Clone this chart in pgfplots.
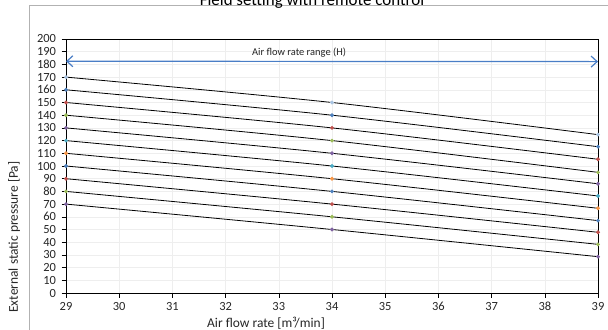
\documentclass[border=0pt]{standalone}
\usepackage{fontspec}
\setmainfont{Carlito}
\usepackage{pgfplots}
\pgfplotsset{compat=1.18}
\usetikzlibrary{arrows.meta}
\definecolor{sblue}{HTML}{4F81BD}
\definecolor{sred}{HTML}{C0504D}
\definecolor{sgreen}{HTML}{9BBB59}
\definecolor{spurple}{HTML}{8064A2}
\definecolor{scyan}{HTML}{4BACC6}
\definecolor{sorange}{HTML}{F79646}
\definecolor{slight}{HTML}{A9C4E2}
\definecolor{arrowblue}{HTML}{4A7EC6}
\begin{document}
\begin{tikzpicture}[x=1bp,y=1bp]
\useasboundingbox (0,0) rectangle (608,329);
\draw[gray!60, line width=0.8bp] (29,-2) -- (29,324) -- (612,324);
\node[anchor=base, font=\fontsize{17}{19}\selectfont] at (312,323.5) {Field setting with remote control};
\begin{axis}[
  scale only axis, width=532bp, height=254bp,
  at={(66bp,36bp)}, anchor=south west,
  xmin=29, xmax=39, ymin=0, ymax=200,
  xtick={29,30,...,39}, ytick={0,10,...,200},
  tick pos=left,
  grid=major, major grid style={color=gray!13, line width=0.5bp},
  axis line style={black, line width=0.8bp},
  tick style={black, line width=0.6bp},
  tick align=outside, major tick length=4.5bp,
  ticklabel style={font=\fontsize{12.5}{13}\selectfont, text=black!85},
  /pgf/number format/assume math mode=true,
  xticklabel style={yshift=-1bp},
  yticklabel style={xshift=-2bp},
  xlabel={Air flow rate [m³/min]},
  ylabel={External static pressure [Pa]},
  xlabel style={at={(axis description cs:0.376,-0.134)}, anchor=base, font=\fontsize{13.5}{14}\selectfont, text=black!85},
  ylabel style={at={(axis description cs:-0.0977,0.22)}, anchor=center, font=\fontsize{13.5}{14}\selectfont, text=black!85},
  every axis plot/.append style={black, line width=0.8bp, smooth, mark=*, mark size=1.5bp},
]
\addplot[mark options={draw=slight, fill=slight}] coordinates {(29,170) (34,150) (39,124.7)};
\addplot[mark options={draw=sblue, fill=sblue}] coordinates {(29,160) (34,140) (39,115.2)};
\addplot[mark options={draw=sred, fill=sred}] coordinates {(29,150) (34,130) (39,105.3)};
\addplot[mark options={draw=sgreen, fill=sgreen}] coordinates {(29,140) (34,120) (39,95)};
\addplot[mark options={draw=spurple, fill=spurple}] coordinates {(29,130) (34,110) (39,86)};
\addplot[mark options={draw=scyan, fill=scyan}] coordinates {(29,120) (34,100) (39,76.4)};
\addplot[mark options={draw=sorange, fill=sorange}] coordinates {(29,110) (34,90) (39,66.7)};
\addplot[mark options={draw=sblue, fill=sblue}] coordinates {(29,100) (34,80) (39,57)};
\addplot[mark options={draw=sred, fill=sred}] coordinates {(29,90) (34,70) (39,47.8)};
\addplot[mark options={draw=sgreen, fill=sgreen}] coordinates {(29,80) (34,60) (39,38.3)};
\addplot[mark options={draw=spurple, fill=spurple}] coordinates {(29,70) (34,50) (39,28.6)};
\addplot[arrowblue, line width=1.2bp, no marks, sharp plot, {Straight Barb[length=6bp,width=11bp]}-{Straight Barb[length=6bp,width=11bp]}] coordinates {(29,182.5) (39,182.2)};
\node[font=\fontsize{10.5}{11}\selectfont, text=black!85] at (axis cs:33.38,189.2) {Air flow rate range (H)};
\end{axis}
\end{tikzpicture}
\end{document}
